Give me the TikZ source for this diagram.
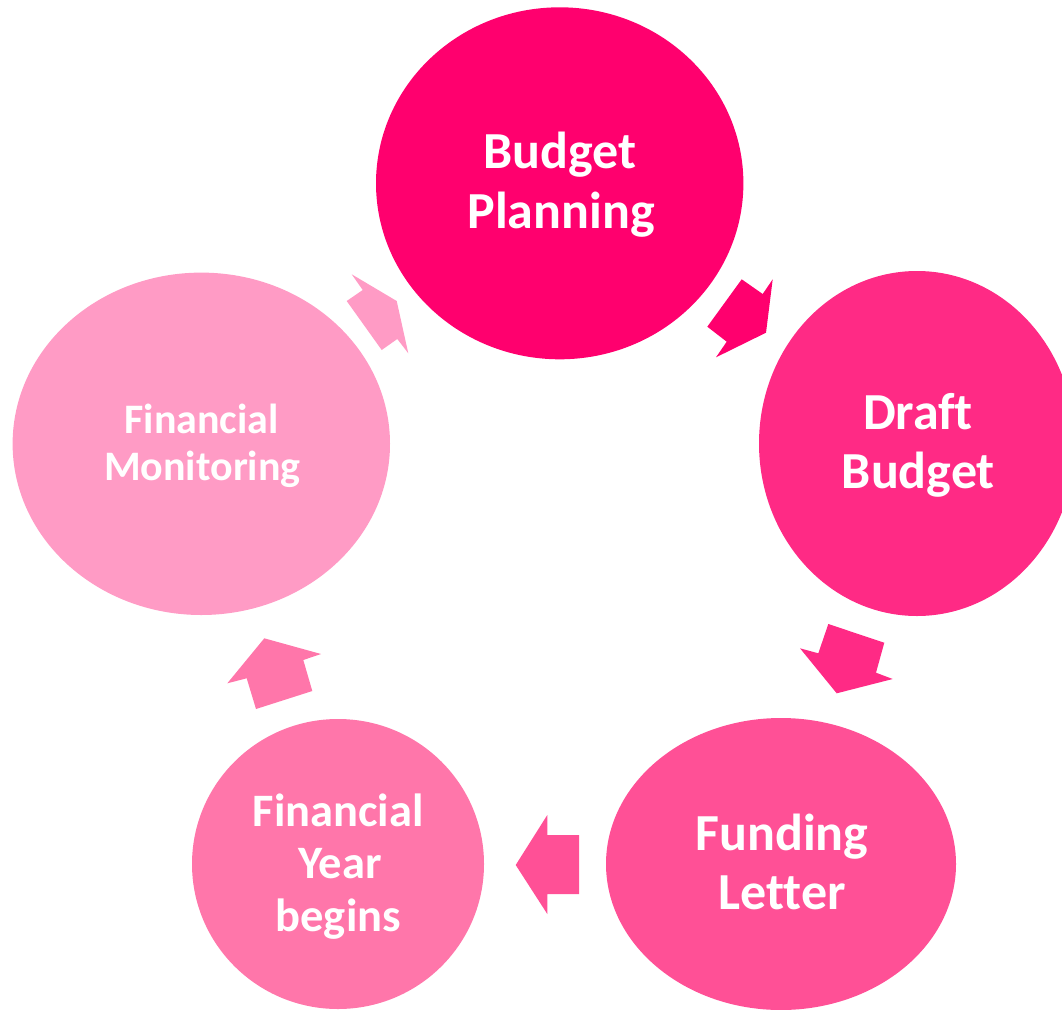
\documentclass[tikz,border=0pt]{standalone}
\usepackage{fontspec}
\setmainfont{Carlito}[Ligatures=NoCommon]
\usetikzlibrary{shapes.geometric}
\definecolor{cA}{RGB}{255,0,110}
\definecolor{cB}{RGB}{255,42,133}
\definecolor{cC}{RGB}{255,80,150}
\definecolor{cD}{RGB}{255,118,170}
\definecolor{cE}{RGB}{255,155,197}
\begin{document}
\begin{tikzpicture}[x=1pt,y=-1pt,
  bubble/.style={ellipse, inner sep=0pt, draw=none},
  lblbig/.style={text=white, font=\bfseries\fontsize{52}{60}\selectfont, anchor=base, inner sep=0pt},
  lblmid/.style={text=white, font=\bfseries\fontsize{46.5}{52}\selectfont, anchor=base, inner sep=0pt},
  lblsmall/.style={text=white, font=\bfseries\fontsize{42}{47}\selectfont, anchor=base, inner sep=0pt}]
\useasboundingbox (0,0) rectangle (1062,1009);
% circles
\node[bubble, fill=cA, minimum width=367.4pt, minimum height=352pt] (bp) at (559.7,183.3) {};
\node[bubble, fill=cB, minimum width=316pt, minimum height=345pt] (db) at (917,443.5) {};
\node[bubble, fill=cC, minimum width=350pt, minimum height=292pt] (fl) at (781,864) {};
\node[bubble, fill=cD, minimum width=292pt, minimum height=290pt] (fy) at (338,864) {};
\node[bubble, fill=cE, minimum width=377.4pt, minimum height=342.4pt] (fm) at (201.3,443.8) {};
% labels
\node[lblbig] (bp1) at (560,168.3) {Budget};
\node[lblbig] (bp2) at (561,228.3) {Planning};
\node[lblbig] (db1) at (918,429.3) {Draft};
\node[lblbig] (db2) at (918.3,488.3) {Budget};
\node[lblbig] (fl1) at (782,850) {Funding};
\node[lblbig] (fl2) at (782,909.3) {Letter};
\node[lblmid] (fy1) at (338.3,826) {Financial};
\node[lblmid] (fy2) at (340,878.3) {Year};
\node[lblmid] (fy3) at (338.3,931) {begins};
\node[lblsmall] (fm1) at (201.7,433.3) {Financial};
\node[lblsmall] (fm2) at (202.3,480) {Monitoring};
% block arrows
\fill[cA] (741.7,279.3) -- (762.7,294) -- (772.7,279.3) -- (766,332.7) -- (716,357.3) -- (726.7,341.7) -- (707.3,326.7) -- cycle;
\fill[cB] (828.3,624) -- (884.3,642.7) -- (876,672.7) -- (892.7,679) -- (836.7,693.3) -- (800,648.3) -- (818.3,653.3) -- cycle;
\fill[cC] (579,835) -- (547.3,835) -- (547.3,815) -- (515.7,865) -- (547.3,914) -- (547.3,894) -- (579,894) -- cycle;
\fill[cD] (256,709) -- (312.3,691) -- (303.3,660) -- (321,654) -- (264.3,638.3) -- (227.3,683.3) -- (246.7,678.3) -- cycle;
\fill[cE] (346.7,301) -- (362.7,290) -- (351.7,274.3) -- (396.7,301) -- (408.3,353.3) -- (397.3,339) -- (381.7,350) -- cycle;
\end{tikzpicture}
\end{document}
